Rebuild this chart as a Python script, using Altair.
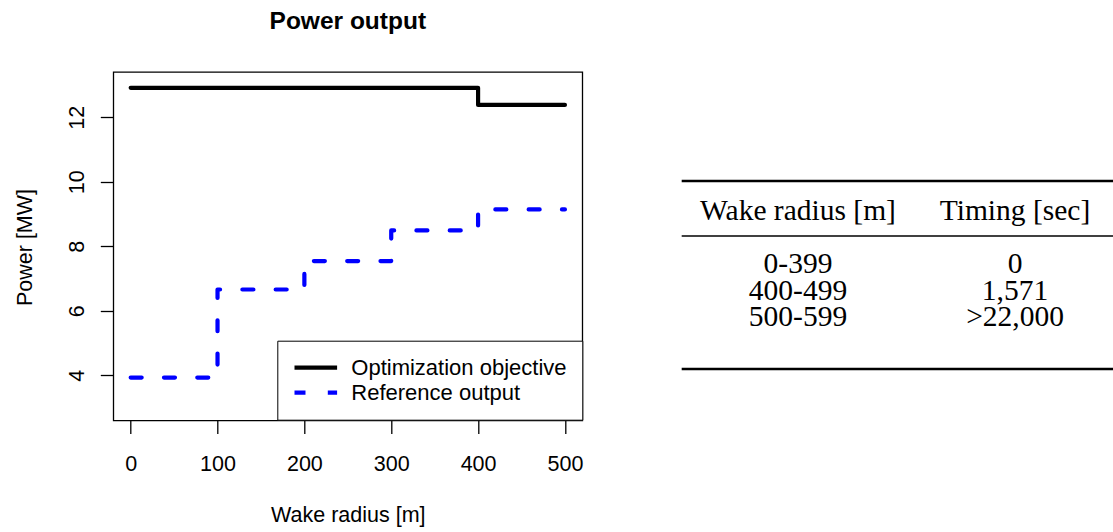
import altair as alt
import pandas as pd

# ---- data ----
series_names = ["Optimization objective", "Reference output"]
series_colors = ["black", "blue"]
objective_radius = [0, 400, 500]
objective_power = [12.91, 12.38, 12.38]
reference_radius = [0, 100, 200, 300, 400, 500]
reference_power = [3.93, 6.66, 7.54, 8.49, 9.14, 9.14]
x_ticks = [0, 100, 200, 300, 400, 500]
y_ticks = [4, 6, 8, 10, 12]

table_headers = ["Wake radius [m]", "Timing [sec]"]
radius_ranges = ["0-399", "400-499", "500-599"]
timings = ["0", "1,571", ">22,000"]

SANS = "Liberation Sans"
SERIF = "Liberation Serif"
FS = 21.5
LFS = 22
W, H = 469, 348.5

lines_df = pd.DataFrame(
    [{"radius": r, "power": p, "series": series_names[0]} for r, p in zip(objective_radius, objective_power)]
    + [{"radius": r, "power": p, "series": series_names[1]} for r, p in zip(reference_radius, reference_power)]
)

cells = [{"col": i, "row": 0, "text": h} for i, h in enumerate(table_headers)]
for k, (a, b) in enumerate(zip(radius_ranges, timings)):
    cells.append({"col": 0, "row": 2 + k, "text": a})
    cells.append({"col": 1, "row": 2 + k, "text": b})
cells_df = pd.DataFrame(cells)
rules_df = pd.DataFrame({"row": [-1.442, 0.618, 5.6], "w": [2.5, 1.5, 2.5],
                         "x1": [-0.536] * 3, "x2": [1.452] * 3})

x_enc = alt.X(
    "radius:Q",
    scale=alt.Scale(domain=[-20, 520], nice=False, zero=False),
    axis=alt.Axis(values=x_ticks, title="Wake radius [m]", grid=False, domain=False,
                  tickSize=13, tickColor="black", tickWidth=1.3,
                  labelFont=SANS, labelFontSize=FS, labelColor="black",
                  labelPadding=36.5, labelBaseline="alphabetic", labelFlush=False,
                  labelOverlap=False,
                  titleFont=SANS, titleFontSize=FS, titleFontWeight="normal", titleColor="black",
                  titleBaseline="alphabetic", titleX=W / 2, titleY=100.5),
)
y_enc = alt.Y(
    "power:Q",
    scale=alt.Scale(domain=[2.6, 13.4], nice=False, zero=False),
    axis=alt.Axis(values=y_ticks, title="Power [MW]", grid=False, domain=False,
                  tickSize=13, tickColor="black", tickWidth=1.3,
                  labelFont=SANS, labelFontSize=FS, labelColor="black",
                  labelAngle=270, labelAlign="center", labelBaseline="alphabetic",
                  labelPadding=17, labelOverlap=False, labelFlush=False,
                  titleFont=SANS, titleFontSize=FS, titleFontWeight="normal", titleColor="black",
                  titleAngle=270, titleAlign="center", titleBaseline="alphabetic",
                  titleX=-81.6, titleY=175),
)

legend_opts = dict(title=None, orient="none", legendX=164, legendY=268.7,
                   padding=15, strokeColor="black", fillColor="white",
                   symbolType="stroke", symbolSize=1815, symbolStrokeWidth=4.2,
                   clipHeight=24, rowPadding=1, labelOffset=12,
                   labelFont=SANS, labelFontSize=LFS, labelColor="black",
                   labelLimit=0)

lines = alt.Chart(lines_df).mark_line(
    interpolate="step-after", strokeWidth=4.2, strokeCap="round", strokeJoin="round"
).encode(
    x=x_enc,
    y=y_enc,
    color=alt.Color("series:N", scale=alt.Scale(domain=series_names, range=series_colors),
                    legend=alt.Legend(**legend_opts)),
    strokeDash=alt.StrokeDash("series:N", scale=alt.Scale(domain=series_names, range=[[1, 0], [11, 22.3]]),
                              legend=alt.Legend(**legend_opts)),
    order=alt.Order("radius:Q"),
)

# table panel scales: column / row index -> pixel offset from the plot origin
tx = alt.Scale(domain=[0, 1], range=[684.7, 901.7])
ty = alt.Scale(domain=[0, 1], range=[147.5, 174.2])

table_text = alt.Chart(cells_df).mark_text(
    font=SERIF, fontSize=29.5, color="black", align="center", baseline="alphabetic"
).encode(
    x=alt.X("col:Q", scale=tx, axis=None),
    y=alt.Y("row:Q", scale=ty, axis=None),
    text="text:N",
)
table_rules = alt.Chart(rules_df).mark_rule(color="black").encode(
    x=alt.X("x1:Q", scale=tx, axis=None),
    x2="x2:Q",
    y=alt.Y("row:Q", scale=ty, axis=None),
    strokeWidth=alt.StrokeWidth("w:Q", scale=None),
)
table = alt.layer(table_rules, table_text)

chart = alt.layer(lines, table).resolve_scale(x="independent", y="independent").properties(
    width=W, height=H,
    background="white",
    title=alt.TitleParams("Power output", font=SANS, fontSize=24.5, fontWeight="bold", color="black",
                          anchor="middle", frame="group", baseline="alphabetic", offset=19),
    padding={"left": 113.3, "top": 72, "right": 1113 - 113.3 - W, "bottom": 532 - 72 - H},
    autosize=alt.AutoSizeParams(type="none"),
).configure_view(stroke="black", strokeWidth=1.3)

chart.save("out.html", embed_options={"renderer": "svg", "actions": False})
